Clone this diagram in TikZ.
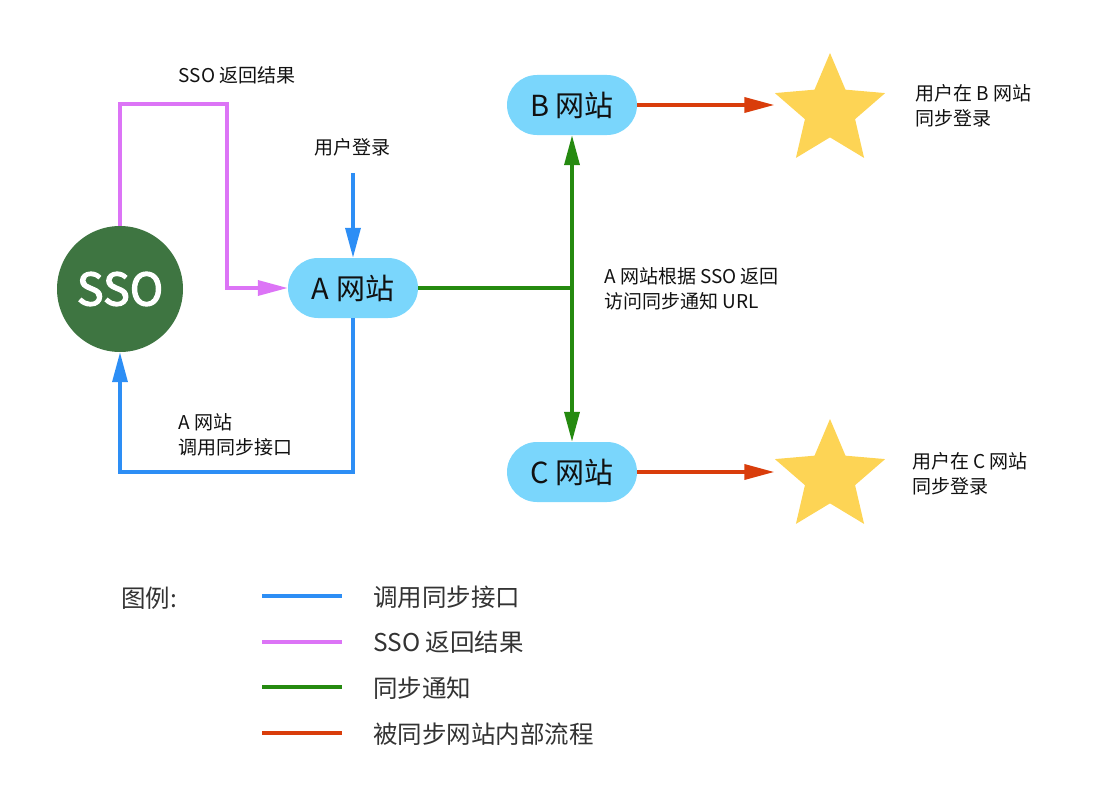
\documentclass[tikz,border=0pt]{standalone}
\usepackage{fontspec}
\setmainfont{Noto Sans CJK SC}
\newfontfamily\ssofont[FakeBold=2.5]{Noto Sans CJK SC}
\usetikzlibrary{shapes.geometric,shapes.misc,arrows.meta}
\definecolor{cblue}{HTML}{2D8EF5}
\definecolor{cpink}{HTML}{DC74F6}
\definecolor{cgreen}{HTML}{258A10}
\definecolor{cred}{HTML}{D93D0B}
\definecolor{cnode}{HTML}{7AD6FC}
\definecolor{cstar}{HTML}{FDD455}
\definecolor{csso}{HTML}{3E7541}
\definecolor{ctext}{HTML}{111111}
\definecolor{clegend}{HTML}{333333}
\tikzset{
  site/.style={rounded rectangle, fill=cnode, minimum width=130pt, minimum height=60pt, inner sep=0pt, font=\fontsize{29}{29}\selectfont, text=ctext},
  starshape/.style={star, star points=5, star point ratio=2.2, minimum size=116pt, inner sep=0pt, fill=cstar},
  lbl/.style={font=\fontsize{19}{25}\selectfont, text=ctext, align=left, inner sep=0pt},
  legtxt/.style={font=\fontsize{24.5}{24.5}\selectfont, text=clegend, anchor=west, inner sep=0pt},
  conn/.style={line width=3.5pt},
  tip/.style={-{Triangle[length=30pt,width=15pt]}},
}
\begin{document}
\begin{tikzpicture}[x=1pt,y=-1pt]
\useasboundingbox (0,0) rectangle (1100,800);
% nodes
\node[circle, fill=csso, minimum size=126pt, inner sep=0pt, text=white, font=\ssofont\fontsize{45}{45}\selectfont] (sso) at (120,289) {SSO};
\node[site] (A) at (353,288) {A 网站};
\node[site] (B) at (572,105) {B 网站};
\node[site] (C) at (572,472) {C 网站};
\node[starshape] (sb) at (830,111) {};
\node[starshape] (sc) at (830,477) {};
% labels
\node[lbl, anchor=center] (lret) at (237,75) {SSO 返回结果};
\node[lbl, anchor=center] (llogin) at (352,147) {用户登录};
\node[lbl, anchor=west] (lcall) at (178,435) {A 网站\\调用同步接口};
\node[lbl, anchor=west] (lnote) at (604,289) {A 网站根据 SSO 返回\\访问同步通知 URL};
\node[lbl, anchor=west] (lb) at (915,106) {用户在 B 网站\\同步登录};
\node[lbl, anchor=west] (lc) at (912,474) {用户在 C 网站\\同步登录};
% coordinates
\coordinate (ls) at (353,173);
\coordinate (pk1) at (120,104);
\coordinate (pk2) at (227,104);
\coordinate (pk3) at (227,288);
\coordinate (bl) at (353,472);
\coordinate (J) at (572,288);
% connectors
\draw[conn, cpink, tip] (sso.north) -- (pk1) -- (pk2) -- (pk3) -- (A.west);
\draw[conn, cblue, tip] (ls) -- (A.north);
\draw[conn, cblue, tip] (A.south) -- (bl) -| (sso.south);
\draw[conn, cgreen] (A.east) -- (J);
\draw[conn, cgreen, tip] (J) -- (B.south);
\draw[conn, cgreen, tip] (J) -- (C.north);
\draw[conn, cred, tip] (B.east) -- (B.east -| sb.outer point 2);
\draw[conn, cred, tip] (C.east) -- (C.east -| sc.outer point 2);
% legend
\node[legtxt] (lg) at (121,598) {图例:};
\draw[conn, cblue] (262,596) -- (342,596);
\node[legtxt] (l1) at (373,597) {调用同步接口};
\draw[conn, cpink] (262,642) -- (342,642);
\node[legtxt] (l2) at (373,642) {SSO 返回结果};
\draw[conn, cgreen] (262,687) -- (342,687);
\node[legtxt] (l3) at (373,688) {同步通知};
\draw[conn, cred] (262,733) -- (342,733);
\node[legtxt] (l4) at (373,734) {被同步网站内部流程};
\end{tikzpicture}
\end{document}
